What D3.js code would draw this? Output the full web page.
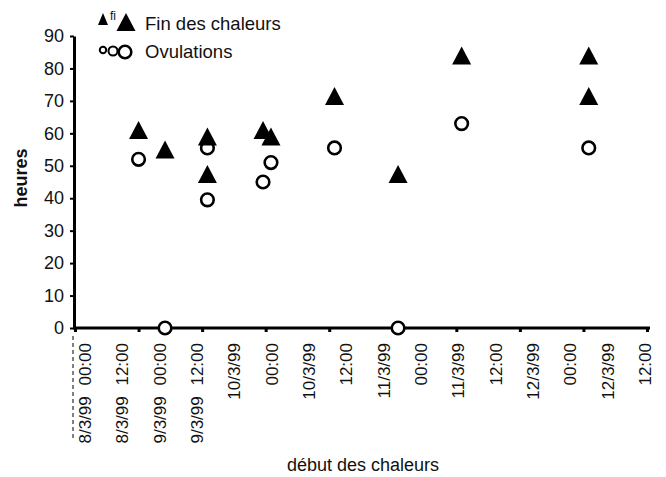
<!DOCTYPE html>
<html><head><meta charset="utf-8">
<script src="https://cdn.jsdelivr.net/npm/d3@7"></script>
<style>body{margin:0;background:#fff}svg{display:block}text{font-family:"Liberation Sans",Arial,sans-serif;fill:#111}</style>
</head><body>
<script>
// ---- data ----
const tickHours = [0, 12, 24, 36, 48, 60, 72, 84, 96, 108];
const tickLabels = ["8/3/99 00:00","8/3/99 12:00","9/3/99 00:00","9/3/99 12:00","10/3/99 00:00","10/3/99 12:00","11/3/99 00:00","11/3/99 12:00","12/3/99 00:00","12/3/99 12:00"];
const finHours  = [12, 17, 25, 25, 35.5, 37, 49, 61, 73, 97, 97];
const finValues = [61, 55, 59, 47.5, 61, 59, 71.5, 47.5, 84, 84, 71.5];
const ovuHours  = [12, 17, 25, 25, 35.5, 37, 49, 61, 73, 97];
const ovuValues = [52, 0, 55.5, 39.5, 45, 51, 55.5, 0, 63, 55.5];
const yTicks = [0,10,20,30,40,50,60,70,80,90];
const seriesNames = ["Fin des chaleurs","Ovulations"];

const W=666,H=477;
const svg=d3.select("body").append("svg").attr("width",W).attr("height",H);
const x=d3.scaleLinear().domain([0,108]).range([75,647]);
const y=d3.scaleLinear().domain([0,90]).range([328,36]);

// y axis
const ya=svg.append("g").attr("transform",`translate(${x(0)-1},0)`)
  .call(d3.axisLeft(y).tickValues(yTicks).tickSize(4).tickPadding(6).tickSizeOuter(0));
ya.select(".domain").attr("stroke","#000").attr("stroke-width",3);
ya.selectAll(".tick line").attr("stroke","#000").attr("stroke-width",2);
ya.selectAll(".tick text").style("font-size","18px").attr("fill","#111");

// x axis
const xa=svg.append("g").attr("transform",`translate(0,${y(0)})`)
  .call(d3.axisBottom(x).tickValues(tickHours).tickSize(4).tickFormat("").tickSizeOuter(0));
xa.select(".domain").attr("stroke","#000").attr("stroke-width",3).attr("d",`M${x(0)-2},0H${x(108)+3}`);
xa.selectAll(".tick line").attr("stroke","#000").attr("stroke-width",3);

// x tick labels (wrapped like the original)
const cols=[];
tickLabels.forEach((l,i)=>{ if(i<4) cols.push(l); else l.split(" ").forEach(p=>cols.push(p)); });
const cx=d3.scaleLinear().domain([0,cols.length-1]).range([85,645]);
svg.append("g").selectAll("text").data(cols).join("text")
  .attr("transform",(d,i)=>`translate(${cx(i)+6},343) rotate(-90)`)
  .attr("text-anchor","end").style("font-size","17px").style("word-spacing","6px").text(d=>d);
svg.append("line").attr("x1",73).attr("x2",73).attr("y1",336).attr("y2",440)
  .attr("stroke","#000").attr("stroke-width",1).attr("stroke-dasharray","4,3");

// titles
svg.append("text").attr("transform","translate(27,178) rotate(-90)").attr("text-anchor","middle")
  .style("font-size","18px").style("font-weight","bold").text("heures");
svg.append("text").attr("x",363).attr("y",471).attr("text-anchor","middle").style("font-size","18px").text("début des chaleurs");

// markers
const tri=(w,h)=>`M0,${-h/2}L${w/2},${h/2}L${-w/2},${h/2}Z`;
const fin=finHours.map((h,i)=>[h,finValues[i]]);
const ovu=ovuHours.map((h,i)=>[h,ovuValues[i]]);
svg.append("g").selectAll("circle").data(ovu).join("circle")
  .attr("cx",d=>x(d[0])).attr("cy",d=>y(d[1])).attr("r",6.3)
  .attr("fill","#fff").attr("stroke","#000").attr("stroke-width",2.6);
svg.append("g").selectAll("path").data(fin).join("path")
  .attr("transform",d=>`translate(${x(d[0])},${y(d[1])})`).attr("d",tri(19,18)).attr("fill","#000");

// legend
const lg=svg.append("g");
lg.append("path").attr("transform","translate(103,19)").attr("d",tri(10,12)).attr("fill","#000");
lg.append("text").attr("x",110).attr("y",20).style("font-size","12px").text("fi");
lg.append("path").attr("transform","translate(126,22)").attr("d",tri(19,18)).attr("fill","#000");
lg.append("text").attr("x",145).attr("y",30).style("font-size","18.5px").text(seriesNames[0]);
lg.append("circle").attr("cx",103).attr("cy",50).attr("r",3.2).attr("fill","#fff").attr("stroke","#000").attr("stroke-width",2);
lg.append("circle").attr("cx",113).attr("cy",51).attr("r",4.5).attr("fill","#fff").attr("stroke","#000").attr("stroke-width",2);
lg.append("circle").attr("cx",125).attr("cy",52).attr("r",6.3).attr("fill","#fff").attr("stroke","#000").attr("stroke-width",2.6);
lg.append("text").attr("x",145).attr("y",58).style("font-size","18.5px").text(seriesNames[1]);
</script>
</body></html>
